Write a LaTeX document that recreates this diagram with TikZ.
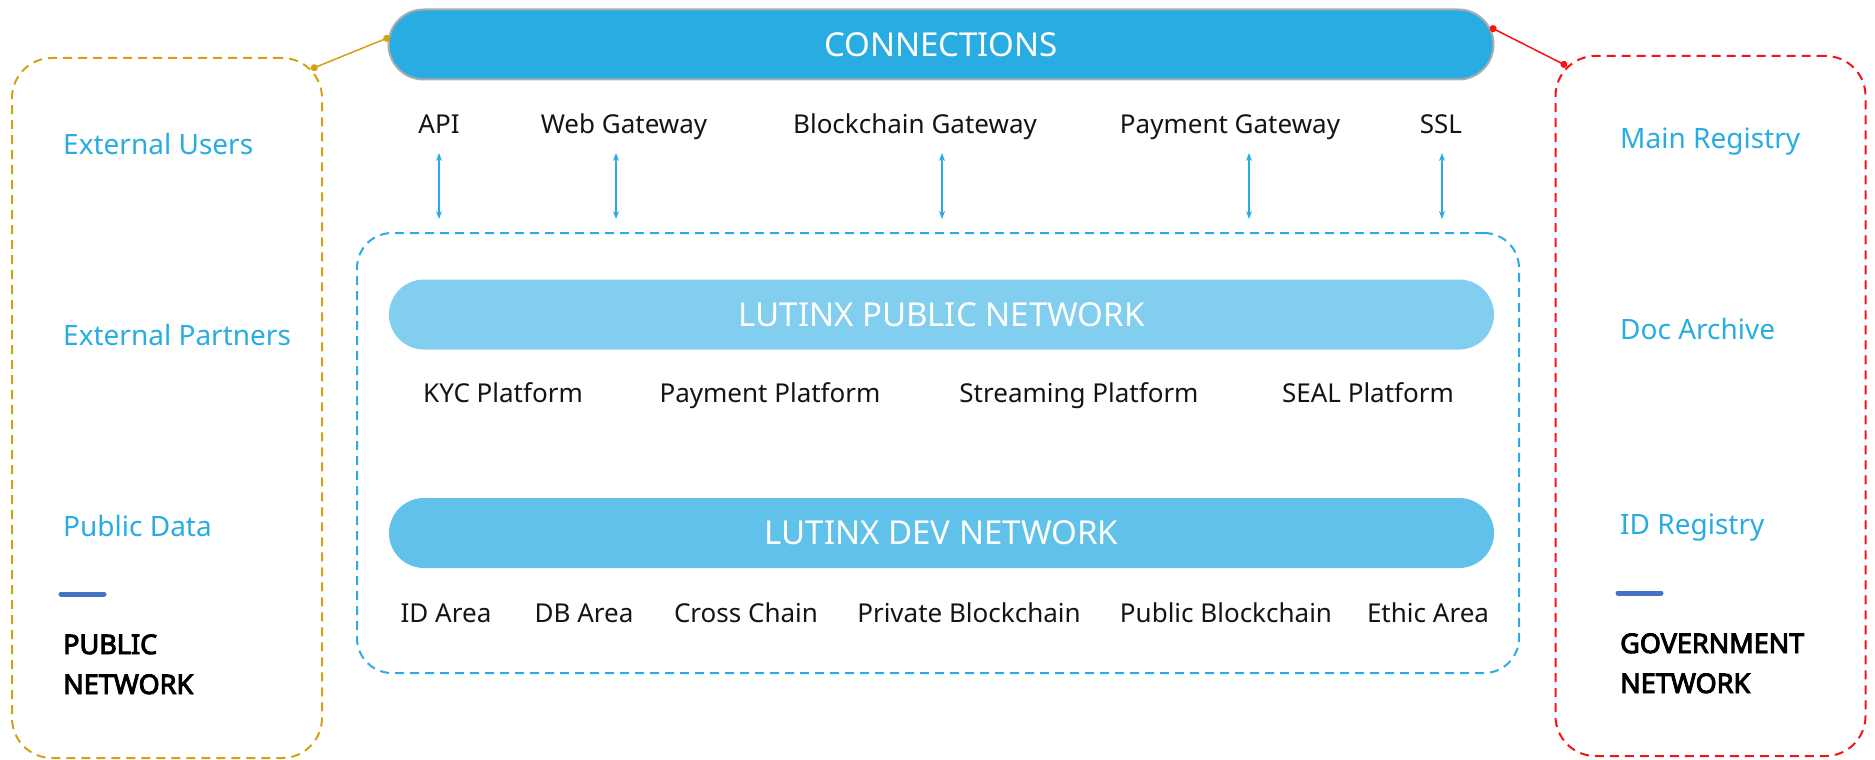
\documentclass[tikz,border=0pt]{standalone}
\usepackage{fontspec}
\setmainfont{Noto Sans}[AutoFakeBold=3.6]
\usetikzlibrary{arrows.meta}
\definecolor{sky}{RGB}{41,172,226}
\definecolor{skylight}{RGB}{130,206,238}
\definecolor{skymid}{RGB}{96,194,234}
\definecolor{gold}{RGB}{214,160,20}
\definecolor{alert}{RGB}{245,20,20}
\definecolor{barblue}{RGB}{68,114,196}
\definecolor{ink}{RGB}{20,20,20}

\begin{document}
\begin{tikzpicture}[
    x=1pt, y=-1pt,
    every node/.style={font=\fontsize{26}{30}\selectfont, text=ink, inner sep=0pt},
    pill/.style={minimum width=1105pt, minimum height=70pt, rounded corners=35pt, text=white, font=\fontsize{33}{36}\selectfont},
    zone/.style={line width=2pt, dash pattern=on 9pt off 6pt, rounded corners=40pt, minimum width=310pt, minimum height=700pt},
    side/.style={anchor=base west, text=sky, font=\fontsize{28}{32}\selectfont},
    nettitle/.style={anchor=base west, align=left, text=black, font=\fontsize{27}{40}\selectfont\bfseries},
    item/.style={anchor=base},
    tickbar/.style={barblue, line width=5pt, line cap=round},
    link/.style={line width=1.5pt, {Circle[length=7pt]}-{Circle[length=7pt]}},
    dbl/.style={sky, line width=1.4pt, {Stealth[length=8pt,width=6pt]}-{Stealth[length=8pt,width=6pt]}}
]
\useasboundingbox (0,0) rectangle (1875,760);

% side zones
\node[zone, draw=gold] (pubnet) at (167,408) {};
\node[zone, draw=alert] (govnet) at (1710.5,406) {};
\node[draw=sky, line width=2pt, dash pattern=on 9pt off 6pt, rounded corners=35pt,
      minimum width=1162pt, minimum height=440pt] (core) at (938,453) {};

% bars
\node[pill, fill=sky, draw=gray!65, line width=2pt] (conn) at (941,44.5) {CONNECTIONS};
\node[pill, fill=skylight] (lpub) at (941.5,314.5) {LUTINX PUBLIC NETWORK};
\node[pill, fill=skymid] (ldev) at (941.5,533) {LUTINX DEV NETWORK};

% gateways
\node[item] (api) at (439,133) {API};
\node[item] (web) at (624,133) {Web Gateway};
\node[item] (bcg) at (915,133) {Blockchain Gateway};
\node[item] (payg) at (1230,133) {Payment Gateway};
\node[item] (ssl) at (1441,133) {SSL};
\foreach \x [count=\i] in {439,616,942,1249,1442} {
    \coordinate (gw\i-top) at (\x,153);
    \coordinate (gw\i-bot) at (\x,219);
    \draw[dbl] (gw\i-top) -- (gw\i-bot);
}

% platforms
\node[item] (kyc) at (503,402) {KYC Platform};
\node[item] (payp) at (770,402) {Payment Platform};
\node[item] (stream) at (1079,402) {Streaming Platform};
\node[item] (seal) at (1368,402) {SEAL Platform};

% dev areas
\node[item] (idarea) at (446,622) {ID Area};
\node[item] (dbarea) at (584,622) {DB Area};
\node[item] (cross) at (746,622) {Cross Chain};
\node[item] (privbc) at (969,622) {Private Blockchain};
\node[item] (pubbc) at (1226,622) {Public Blockchain};
\node[item] (ethic) at (1428,622) {Ethic Area};

% public network side
\node[side] (extusers) at (63,154) {External Users};
\node[side] (extpart) at (63,345) {External Partners};
\node[side] (pubdata) at (63,536) {Public Data};
\coordinate (pubbar-l) at (61,594);
\coordinate (pubbar-r) at (104,594);
\draw[tickbar] (pubbar-l) -- (pubbar-r);
\node[nettitle] (pubtitle) at (63,694) {PUBLIC\\NETWORK};

% government network side
\node[side] (mainreg) at (1620,148) {Main Registry};
\node[side] (docarch) at (1620,339) {Doc Archive};
\node[side] (idreg) at (1620,534) {ID Registry};
\coordinate (govbar-l) at (1618,593);
\coordinate (govbar-r) at (1661,593);
\draw[tickbar] (govbar-l) -- (govbar-r);
\node[nettitle] (govtitle) at (1620,693) {GOVERNMENT\\NETWORK};

% links to connections
\coordinate (pub-corner) at (311,69);
\coordinate (conn-left) at (390,37);
\coordinate (conn-right) at (1490,27);
\coordinate (gov-corner) at (1567,66);
\draw[link, gold] (pub-corner) -- (conn-left);
\draw[link, alert] (conn-right) -- (gov-corner);
\end{tikzpicture}
\end{document}
